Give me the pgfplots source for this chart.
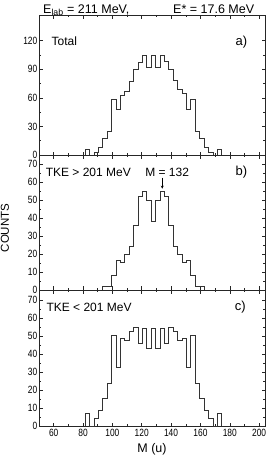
\documentclass[border=0pt]{standalone}
\usepackage{fontspec}
\setmainfont{Liberation Sans}
\newfontfamily\narrowfont[FakeStretch=0.8]{Liberation Sans}
\usepackage{pgfplots}
\pgfplotsset{compat=1.18}
\usetikzlibrary{arrows.meta}

\pgfplotsset{
  panel/.style={
    scale only axis, width=226bp, xmin=50, xmax=204, ymin=0,
    clip=false,
    axis line style={line width=0.6bp, black!85},
    tick align=inside,
    major tick length=3.5bp, minor tick length=2bp,
    every tick/.style={line width=0.5bp, black!85},
    xtick={60,80,...,200}, minor x tick num=1, minor y tick num=1,
    tick label style={font=\narrowfont\fontsize{10.5bp}{12bp}\selectfont},
    /pgf/number format/assume math mode=true,
    yticklabel style={inner sep=1.5bp},
  },
  hist/.style={const plot, black!80, line width=0.8bp, mark=none},
}

\begin{document}
\begin{tikzpicture}[font=\fontsize{12bp}{14bp}\selectfont]
\useasboundingbox (-39bp,15bp) rectangle (234bp,-444bp);

% ---------- panel a: Total
\begin{axis}[panel, height=140bp, at={(0,0)}, anchor=north west,
  ymax=147, ytick={0,30,60,90,120}, xticklabels={}]
\addplot[hist] coordinates {
 (81.5,0) (81.5,6) (84.5,0) (87.5,3) (90.5,8) (93.5,17) (96.5,25)
 (99.5,58) (102.5,48) (105.5,63) (108.5,67) (111.5,77) (114.5,90)
 (117.5,97) (120.5,105) (123.5,92) (126.5,105) (129.5,92) (132.5,105)
 (135.5,98) (138.5,90) (141.5,78) (144.5,69) (147.5,65) (150.5,48)
 (153.5,58) (156.5,25) (159.5,17) (162.5,8) (165.5,3) (168.5,0)
 (171.5,6) (174.5,0)};
\node[anchor=west, inner sep=0pt] at (axis cs:58.5,119) {Total};
\node[anchor=east, inner sep=0pt, font=\fontsize{13bp}{15bp}\selectfont] at (axis cs:192,119) {a)};
\end{axis}

% ---------- panel b: TKE > 201 MeV
\begin{axis}[panel, height=135bp, at={(0,-140bp)}, anchor=north west,
  ymax=75, ytick={0,10,...,70}, xticklabels={}]
\addplot[hist] coordinates {
 (93.5,0) (93.5,2) (96.5,2) (99.5,8) (102.5,16.5) (105.5,15.5)
 (108.5,20) (111.5,24) (114.5,36) (117.5,52) (120.5,55) (123.5,50)
 (126.5,38) (129.5,50) (132.5,55) (135.5,52) (138.5,36) (141.5,24)
 (144.5,20) (147.5,15.5) (150.5,16.5) (153.5,8) (156.5,2) (159.5,2)
 (162.5,0)};
\node[anchor=west, inner sep=0pt] at (axis cs:54.5,65.4) {TKE > 201 MeV};
\node[inner sep=0pt] at (axis cs:137.3,65.4) {M = 132};
\draw[-{Stealth[length=3bp,width=3bp]}, line width=0.6bp] (axis cs:134,62.5) -- (axis cs:134,56.3);
\node[anchor=east, inner sep=0pt, font=\fontsize{13bp}{15bp}\selectfont] at (axis cs:192,65.4) {b)};
\end{axis}

% ---------- panel c: TKE < 201 MeV
\begin{axis}[panel, height=136bp, at={(0,-275bp)}, anchor=north west,
  ymax=75.5, ytick={0,10,...,70}, xlabel={M (u)},
  xlabel style={font=\fontsize{12.5bp}{14bp}\selectfont, inner sep=0pt, yshift=-3bp}]
\addplot[hist] coordinates {
 (81.5,0) (81.5,7) (84.5,0) (87.5,4) (90.5,8.5) (93.5,15.5) (96.5,23.5)
 (99.5,50.5) (102.5,32.5) (105.5,48.5) (108.5,47.5) (111.5,52.5)
 (114.5,54.5) (117.5,46) (120.5,54) (123.5,43) (126.5,54) (129.5,43)
 (132.5,54) (135.5,46) (138.5,54.5) (141.5,52.5) (144.5,47.5)
 (147.5,48.5) (150.5,32.5) (153.5,50.5) (156.5,23.5) (159.5,15.5)
 (162.5,8.5) (165.5,4) (168.5,0) (171.5,7) (174.5,0)};
\node[anchor=west, inner sep=0pt] at (axis cs:55,66) {TKE < 201 MeV};
\node[anchor=east, inner sep=0pt, font=\fontsize{13bp}{15bp}\selectfont] at (axis cs:191,66) {c)};
\end{axis}

% ---------- title and y label
\node[anchor=base west, inner sep=0pt, font=\fontsize{12.5bp}{14bp}\selectfont] at (4bp,2bp) {E\textsubscript{lab} = 211 MeV,};
\node[anchor=base west, inner sep=0pt, font=\fontsize{12.5bp}{14bp}\selectfont] at (134bp,2bp) {E* = 17.6 MeV};
\node[rotate=90, inner sep=0pt, font=\fontsize{11.5bp}{13bp}\selectfont] at (-34bp,-213bp) {COUNTS};
\end{tikzpicture}
\end{document}
